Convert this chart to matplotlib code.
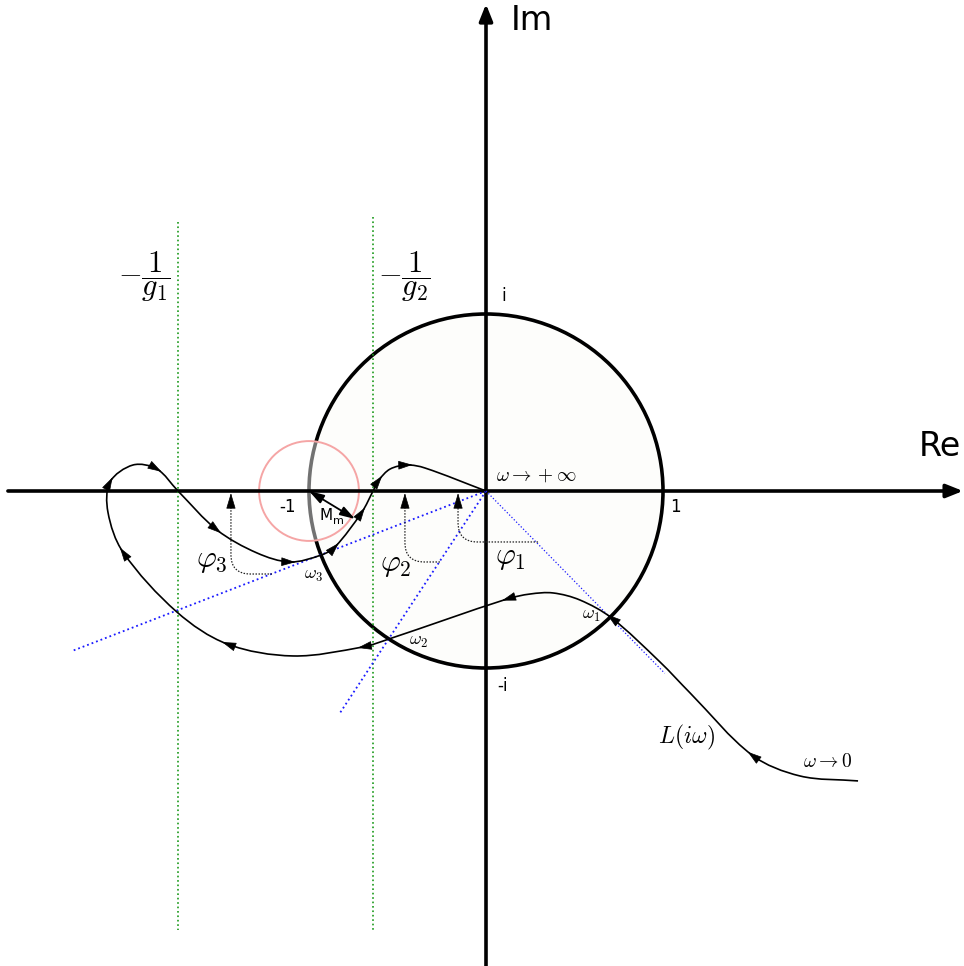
import numpy as np
import matplotlib.pyplot as plt
from matplotlib.path import Path
from matplotlib.patches import Circle, PathPatch, FancyArrowPatch

plt.rcParams['mathtext.fontset'] = 'cm'

# Nyquist curve L(iw), from w -> 0 (bottom right) to w -> +inf (origin)
curve_re = [2.102, 1.774, 1.503, 1.153, 0.983, 0.708, 0.531, 0.379, 0.249, 0.119,
            -0.548, -0.695, -1.090, -1.463, -1.746, -2.051, -2.136, -2.124, -1.994,
            -1.859, -1.740, -1.520, -1.294, -1.107, -0.932, -0.853, -0.701, -0.638,
            -0.605, -0.542, -0.446, -0.345, 0.0]
curve_im = [-1.638, -1.610, -1.492, -1.141, -0.966, -0.716, -0.616, -0.576, -0.582, -0.610,
            -0.836, -0.881, -0.932, -0.864, -0.684, -0.345, -0.119, 0.051, 0.147,
            0.124, 0.0, -0.220, -0.350, -0.401, -0.362, -0.316, -0.119, 0.0,
            0.062, 0.124, 0.147, 0.130, 0.0]
arrow_idx = [2, 5, 9, 11, 13, 15, 17, 19, 21, 23, 25, 26, 28, 30]

# crossover frequencies (rays from origin)
ray_end_re = [1.01, -0.825, -2.339]
ray_end_im = [-1.03, -1.254, -0.904]
# describing-function lines -1/g1, -1/g2
g_re = [-1.740, -0.638]
g_top = [1.520, 1.548]
g_bot = -2.480
# phase margin arcs: x of arrow on Re axis, depth, end x
phi_x = [-0.158, -0.458, -1.441]
phi_y = [-0.288, -0.401, -0.469]
phi_end = [0.294, -0.260, -1.209]
# modulus margin circle
mm_center = -1.0
mm_radius = 0.282
mm_tip = (-0.740, -0.158)


def smooth_path(pts):
    pts = np.asarray(pts, dtype=float)
    n = len(pts)
    d = np.linalg.norm(np.diff(pts, axis=0), axis=1)
    tang = np.zeros_like(pts)
    tang[0] = (pts[1] - pts[0]) / d[0]
    tang[-1] = (pts[-1] - pts[-2]) / d[-1]
    for i in range(1, n - 1):
        tang[i] = (pts[i + 1] - pts[i - 1]) / (d[i - 1] + d[i])
    verts = [pts[0]]
    codes = [Path.MOVETO]
    for i in range(n - 1):
        verts += [pts[i] + tang[i] * d[i] / 3, pts[i + 1] - tang[i + 1] * d[i] / 3, pts[i + 1]]
        codes += [Path.CURVE4] * 3
    return Path(verts, codes), tang


fig = plt.figure(figsize=(9.64, 9.66), dpi=100)
ax = fig.add_axes([0, 0, 1, 1])
ax.set_xlim(-486 / 177, 478 / 177)
ax.set_ylim(-475 / 177, 491 / 177)
ax.axis('off')

# unit circle
ax.add_patch(Circle((0, 0), 1, facecolor='#fdfdfb', edgecolor='k', lw=2.6, zorder=1))
# modulus margin circle
ax.add_patch(Circle((mm_center, 0), mm_radius, facecolor=(1, 1, 1, 0.45),
                    edgecolor='#f5a5a5', lw=1.4, zorder=2))

# axes with arrows
head = '-|>,head_length=0.5,head_width=0.2'
ax.add_patch(FancyArrowPatch((-2.701, 0), (2.695, 0), arrowstyle=head,
                             mutation_scale=20, color='k', lw=2.6, shrinkA=0, shrinkB=0, zorder=3))
ax.add_patch(FancyArrowPatch((0, -2.70), (0, 2.751), arrowstyle=head,
                             mutation_scale=20, color='k', lw=2.6, shrinkA=0, shrinkB=0, zorder=3))

# green lines
for x, top in zip(g_re, g_top):
    ax.plot([x, x], [top, g_bot], color='#1a9a1a', ls=':', lw=1.2, zorder=3)

# blue rays
for k, (xe, ye) in enumerate(zip(ray_end_re, ray_end_im)):
    ax.plot([0, xe], [0, ye], color='#1a1aff', ls=':', lw=0.9 if k == 0 else 1.3, zorder=3)

# phase arcs
for x0, yc, xe in zip(phi_x, phi_y, phi_end):
    r = 0.11
    verts = [(xe, yc), (x0 + r, yc), (x0, yc), (x0, yc + r), (x0, -0.05)]
    codes = [Path.MOVETO, Path.LINETO, Path.CURVE3, Path.CURVE3, Path.LINETO]
    ax.add_patch(PathPatch(Path(verts, codes), fill=False, ls=(0, (1.2, 1.2)), lw=0.9,
                           edgecolor='#222222', zorder=4))
    ax.add_patch(FancyArrowPatch((x0, -0.07), (x0, -0.012), arrowstyle='-|>,head_length=0.5,head_width=0.15',
                                 mutation_scale=20, color='k', lw=0.5, shrinkA=0, shrinkB=0, zorder=4))

# Nyquist curve
path, tang = smooth_path(list(zip(curve_re, curve_im)))
ax.add_patch(PathPatch(path, fill=False, edgecolor='k', lw=1.2, zorder=5))
for i in arrow_idx:
    p = np.array([curve_re[i], curve_im[i]])
    t = tang[i] / np.linalg.norm(tang[i])
    ax.add_patch(FancyArrowPatch(p - t * 0.04, p + t * 0.03,
                                 arrowstyle='-|>,head_length=0.45,head_width=0.14',
                                 mutation_scale=20, color='k', lw=0.5, shrinkA=0, shrinkB=0, zorder=6))

# modulus margin arrow
ax.add_patch(FancyArrowPatch((mm_center, 0), mm_tip, arrowstyle='<|-|>,head_length=0.45,head_width=0.14',
                             mutation_scale=20, color='k', lw=1.3, shrinkA=0, shrinkB=0, zorder=6))

# texts
ax.text(0.260, 2.661, 'Im', fontsize=24, ha='center', va='center')
ax.text(2.565, 0.249, 'Re', fontsize=24, ha='center', va='center')
ax.text(-1.119, -0.090, '-1', fontsize=12, ha='center', va='center')
ax.text(1.073, -0.090, '1', fontsize=12, ha='center', va='center')
ax.text(0.100, 1.102, 'i', fontsize=12, ha='center', va='center')
ax.text(0.096, -1.102, '-i', fontsize=12, ha='center', va='center')
ax.text(-0.905, -0.136, 'M', fontsize=11, ha='center', va='center', zorder=7)
ax.text(-0.836, -0.172, 'm', fontsize=8, ha='center', va='center', zorder=7)

ax.text(0.282, 0.090, r'$\omega \to +\infty$', fontsize=14, ha='center', va='center')
ax.text(1.932, -1.531, r'$\omega \to 0$', fontsize=14, ha='center', va='center')
ax.text(1.130, -1.390, r'$L(i\omega)$', fontsize=17, ha='center', va='center')
ax.text(0.593, -0.701, r'$\omega_1$', fontsize=13, ha='center', va='center')
ax.text(-0.384, -0.847, r'$\omega_2$', fontsize=13, ha='center', va='center')
ax.text(-0.977, -0.475, r'$\omega_3$', fontsize=13, ha='center', va='center')
ax.text(0.136, -0.373, r'$\varphi_1$', fontsize=22, ha='center', va='center')
ax.text(-0.508, -0.418, r'$\varphi_2$', fontsize=22, ha='center', va='center')
ax.text(-1.548, -0.390, r'$\varphi_3$', fontsize=22, ha='center', va='center')
ax.text(-1.927, 1.209, r'$-\dfrac{1}{g_1}$', fontsize=22, ha='center', va='center')
ax.text(-0.458, 1.209, r'$-\dfrac{1}{g_2}$', fontsize=22, ha='center', va='center')

fig.savefig('out.png', dpi=100)
